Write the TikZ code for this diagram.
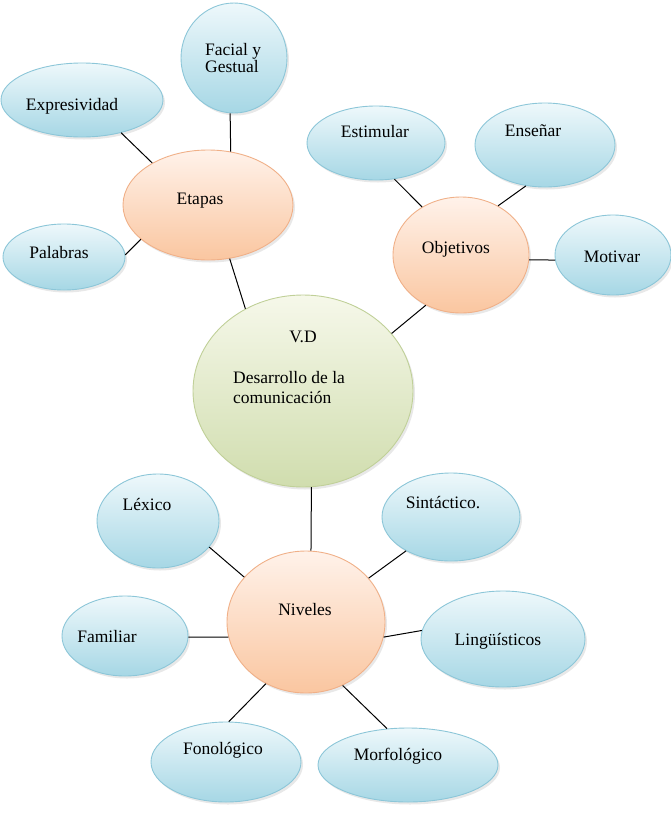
\documentclass[tikz,border=0pt]{standalone}
\usepackage{fontspec}
\setmainfont{Liberation Serif}
\usetikzlibrary{shapes.geometric,shadows}
\definecolor{bluetop}{HTML}{EEF8FB}
\definecolor{bluebot}{HTML}{A6D7E5}
\definecolor{blueline}{HTML}{8CC6D8}
\definecolor{orgtop}{HTML}{FFF2EA}
\definecolor{orgbot}{HTML}{FAC6A0}
\definecolor{orgline}{HTML}{F0B088}
\definecolor{grntop}{HTML}{F6F8EA}
\definecolor{grnbot}{HTML}{D0DDAE}
\definecolor{grnline}{HTML}{C0D098}
\tikzset{
  bub/.style={ellipse, inner sep=0pt, line width=0.9pt,
    drop shadow={opacity=0.18, shadow xshift=2pt, shadow yshift=-2.5pt}},
  bluebub/.style={bub, draw=blueline, top color=bluetop, bottom color=bluebot},
  orgbub/.style={bub, draw=orgline, top color=orgtop, bottom color=orgbot},
  grnbub/.style={bub, draw=grnline, top color=grntop, bottom color=grnbot},
  lbl/.style={inner sep=0pt, font=\fontsize{17.5}{20}\selectfont},
  conn/.style={draw=black, line width=1pt}
}
\begin{document}
\begin{tikzpicture}[x=1pt,y=-1pt]
\useasboundingbox (0,0) rectangle (671,836);
% ellipses
\node[bluebub, minimum width=106pt, minimum height=110pt] (facial) at (234,58) {};
\node[bluebub, minimum width=162pt, minimum height=74pt] (expres) at (82,100) {};
\node[orgbub, minimum width=170pt, minimum height=110pt] (etapas) at (208,205) {};
\node[bluebub, minimum width=122pt, minimum height=66pt] (palabras) at (64,257) {};
\node[bluebub, minimum width=138pt, minimum height=74pt] (estimular) at (376,143) {};
\node[bluebub, minimum width=140pt, minimum height=84pt] (ensenar) at (545,145) {};
\node[orgbub, minimum width=136pt, minimum height=116pt] (objetivos) at (461,255) {};
\node[bluebub, minimum width=116pt, minimum height=80pt] (motivar) at (613,255) {};
\node[grnbub, minimum width=220pt, minimum height=192pt] (vd) at (303,391) {};
\node[bluebub, minimum width=122pt, minimum height=94pt] (lexico) at (158,521) {};
\node[bluebub, minimum width=138pt, minimum height=88pt] (sintactico) at (451,517) {};
\node[orgbub, minimum width=158pt, minimum height=142pt] (niveles) at (306,622) {};
\node[bluebub, minimum width=126pt, minimum height=80pt] (familiar) at (125,636) {};
\node[bluebub, minimum width=164pt, minimum height=96pt] (linguisticos) at (503,639) {};
\node[bluebub, minimum width=150pt, minimum height=80pt] (fonologico) at (226,762) {};
\node[bluebub, minimum width=180pt, minimum height=74pt] (morfologico) at (408,765) {};
% labels
\node[lbl, align=left, anchor=west] (tfacial) at (205,58) {Facial y\\[-3pt]Gestual};
\node[lbl] (texpres) at (72,106) {Expresividad};
\node[lbl] (tetapas) at (200,201) {Etapas};
\node[lbl] (tpalabras) at (59,253) {Palabras};
\node[lbl] (testimular) at (375,132) {Estimular};
\node[lbl] (tensenar) at (533,131) {Enseñar};
\node[lbl] (tobjetivos) at (456,249) {Objetivos};
\node[lbl] (tmotivar) at (612,257) {Motivar};
\node[lbl] (tvd) at (303,337) {V.D};
\node[lbl, align=left, anchor=west] (tvd2) at (233,388) {Desarrollo de la\\comunicación};
\node[lbl] (tlexico) at (147,504) {Léxico};
\node[lbl] (tsintactico) at (443,503) {Sintáctico.};
\node[lbl] (tniveles) at (305,610) {Niveles};
\node[lbl] (tfamiliar) at (107,637) {Familiar};
\node[lbl] (tlinguisticos) at (498,641) {Lingüísticos};
\node[lbl] (tfonologico) at (223,750) {Fonológico};
\node[lbl] (tmorfologico) at (398,756) {Morfológico};
% connectors
\draw[conn] (etapas.-68) -- (vd.125);
\draw[conn] (objetivos.235) -- (vd.33);
\draw[conn] (facial.-94) -- (etapas.67);
\draw[conn] (expres.-40) -- (etapas.143);
\draw[conn] (palabras.2) -- (etapas.207);
\draw[conn] (estimular.-63) -- (objetivos.129);
\draw[conn] (ensenar.-115) -- (objetivos.53);
\draw[conn] (objetivos.-4) -- (motivar.185);
\draw[conn] (vd.-85) -- (niveles.86);
\draw[conn] (lexico.-27) -- (niveles.144);
\draw[conn] (sintactico.217) -- (niveles.35);
\draw[conn] (familiar.-1) -- (niveles.191);
\draw[conn] (niveles.-11) -- (linguisticos.174);
\draw[conn] (niveles.-123) -- (fonologico.86);
\draw[conn] (niveles.-60) -- (morfologico.120);
\end{tikzpicture}
\end{document}
